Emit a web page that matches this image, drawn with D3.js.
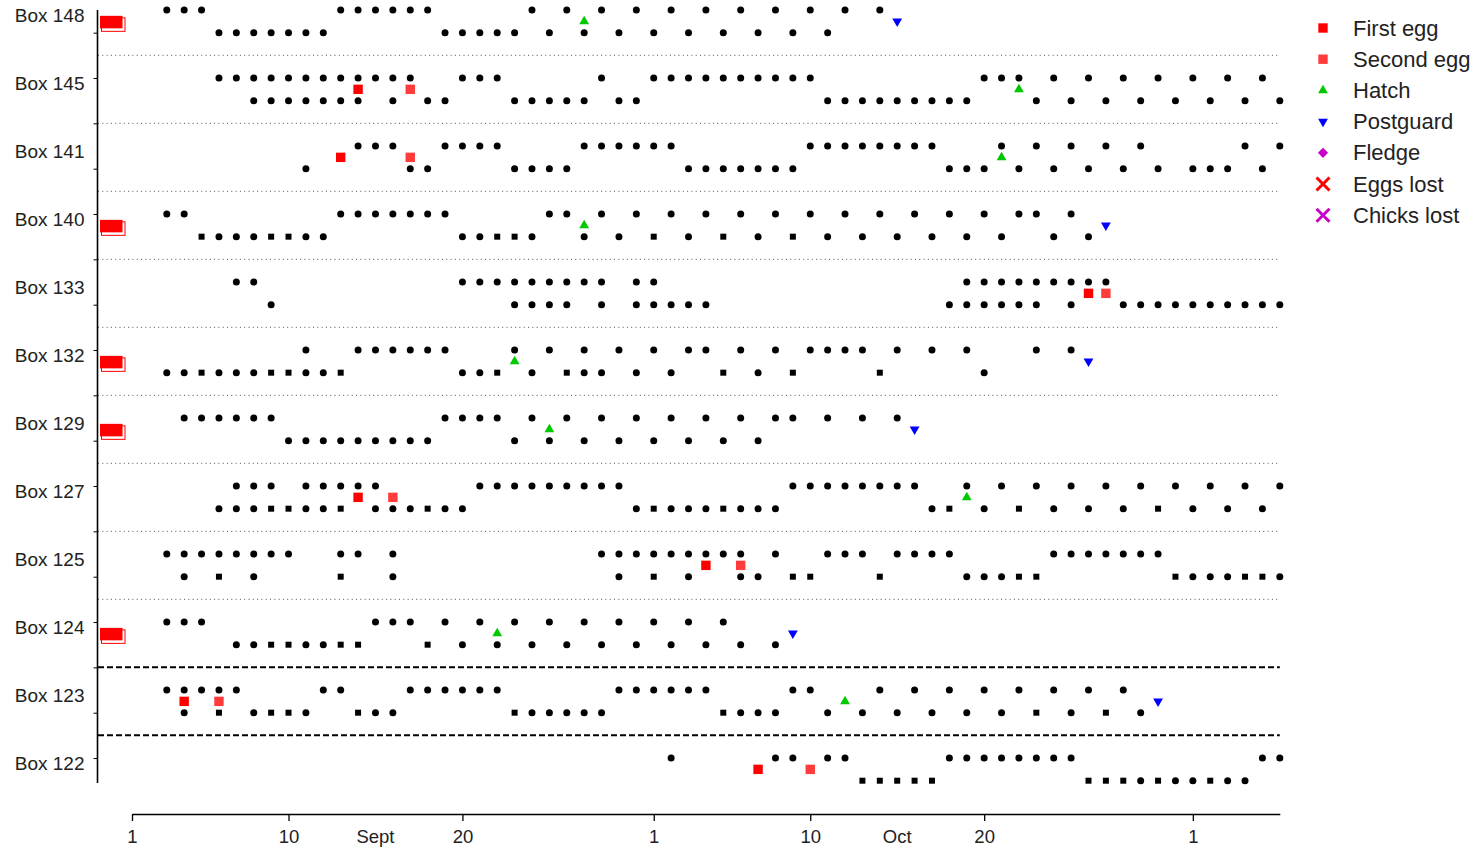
<!DOCTYPE html>
<html>
<head>
<meta charset="utf-8">
<script src="https://cdn.jsdelivr.net/npm/d3@7"></script>
<style>
  body { margin: 0; background: #fff; }
  svg { display: block; }
  text { font-family: "Liberation Sans", Arial, sans-serif; fill: #222; }
</style>
</head>
<body>
<svg id="chart" width="1478" height="849"></svg>
<script>
// Nest boxes, top to bottom
const boxes = ["Box 148", "Box 145", "Box 141", "Box 140", "Box 133", "Box 132",
               "Box 129", "Box 127", "Box 125", "Box 124", "Box 123", "Box 122"];

// Days counted from 1 September (31 = 1 October, 62 = 1 November)
// Sightings of the first bird of each pair (upper row)
const upperDays = [
  [3,4,5,13,14,15,16,17,18,24,26,28,30,32,34,36,38,40,42,44],
  [6,7,8,9,10,11,12,13,14,15,16,17,20,21,22,28,31,32,33,34,35,36,37,38,39,40,50,51,52,54,56,58,60,62,64,66],
  [14,15,16,19,20,21,22,27,28,29,30,31,32,40,41,42,43,44,45,46,47,51,53,55,57,59,65,67],
  [3,4,13,14,15,16,17,18,19,25,26,28,30,32,34,36,38,40,42,44,46,48,50,52,53,55],
  [7,8,20,21,22,23,24,25,26,27,28,30,31,49,50,51,52,53,54,55,56,57],
  [11,14,15,16,17,18,19,23,25,27,29,31,33,34,36,38,40,41,42,43,45,47,49,53,55],
  [4,5,6,7,8,9,19,20,21,22,24,26,28,30,32,34,36,38,39,41,43,45],
  [7,8,9,11,12,13,14,15,21,22,23,24,25,26,27,28,29,39,40,41,42,43,44,45,46,49,51,53,55,57,59,61,63,65,67],
  [3,4,5,6,7,8,9,10,13,14,16,28,29,30,31,32,33,34,35,36,38,41,42,43,45,46,47,48,54,55,56,57,58,59,60],
  [3,4,5,15,16,17,19,21,23,25,27,29,31,33,35],
  [3,4,5,6,7,12,13,17,18,19,20,21,22,29,30,31,32,33,34,39,40,44,46,48,50,52,54,56,58],
  [32,38,39,41,42,48,49,50,51,52,53,54,55,66,67]
];

// Sightings of the second bird (lower row)
const lowerDays = [
  [6,7,8,9,10,11,12,19,20,21,22,23,25,27,29,31,33,35,37,39,41],
  [8,9,10,11,12,13,14,16,18,19,23,24,25,26,27,29,30,41,42,43,44,45,46,47,48,49,53,55,57,59,61,63,65,67],
  [11,17,18,23,24,25,26,33,34,35,36,37,38,39,48,49,50,52,54,56,58,60,62,63,64,66],
  [5,6,7,8,9,10,11,12,20,21,22,23,24,27,29,31,33,35,37,39,41,43,45,47,49,51,54,56],
  [9,23,24,25,26,28,30,31,32,33,34,48,49,50,51,52,53,55,58,59,60,61,62,63,64,65,66,67],
  [3,4,5,6,7,8,9,10,11,12,13,20,21,22,24,26,27,28,30,32,35,37,39,44,50],
  [10,11,12,13,14,15,16,17,18,23,25,27,29,31,33,35,37],
  [6,7,8,9,10,11,12,13,15,16,17,18,19,20,30,31,32,33,34,35,36,37,38,47,48,50,52,54,56,58,60,62,64,66],
  [4,6,8,13,16,29,31,33,36,37,39,40,44,49,50,51,52,53,61,62,63,64,65,66,67],
  [7,8,9,10,11,12,13,14,18,20,22,24,26,28,30,32,34,36,38],
  [4,6,8,9,10,11,14,15,16,23,24,25,26,27,28,35,36,37,38,41,43,45,47,49,51,53,55,57,59],
  [43,44,45,46,47,56,57,58,59,60,61,62,63,64,65]
];

// Lower-row sightings recorded with the square symbol
const lowerSquareDays = [
  [], [], [], [5,9,10,22,23,31,35,39], [], [5,9,10,13,22,26,35,39,44], [],
  [9,10,13,18,31,35,48,52,60], [6,13,31,39,40,44,52,53,61,65,66],
  [9,10,13,14,18], [6,9,10,14,23,35,53,57],
  [43,44,45,46,47,56,57,58,60,63]
];

// Breeding events (day, or null)
const firstEgg   = [null, 14, 13, null, 56, null, null, 14, 34, null, 4, 37];
const secondEgg  = [null, 17, 17, null, 57, null, null, 16, 36, null, 6, 40];
const hatchDay   = [27, 52, 51, 27, null, 23, 25, 49, null, 22, 42, null];
const postguard  = [45, null, null, 57, null, 56, 46, null, null, 39, 60, null];

// Boxes whose clutch was already laid when recording began
const clutchBeforeStart = ["Box 148", "Box 140", "Box 132", "Box 129", "Box 124"];

const dateTickDays   = [1, 10, 20, 31, 40, 50, 62];
const dateTickLabels = ["1", "10", "20", "1", "10", "20", "1"];
const monthDays  = [15, 45];
const monthNames = ["Sept", "Oct"];

const legendLabels = ["First egg", "Second egg", "Hatch", "Postguard", "Fledge", "Eggs lost", "Chicks lost"];

const COL = {
  first: "#ff0000", second: "#ff3b3b", hatch: "#00c800",
  post: "#0000ff", fledge: "#c800c8", eggsLost: "#ff0000", chicksLost: "#c800c8"
};

const svg = d3.select("#chart");
const day = n => new Date(Date.UTC(2015, 8, n));

const x = d3.scaleUtc().domain([day(1), day(67)]).range([132, 1279.8]);
const y = d3.scaleLinear().domain([-0.5, 16.5]).range([780.7, 10]);

// each box occupies 1.5 units: upper row at level, lower row half a unit below
const level = i => 1.5 * (boxes.length - 1 - i);

// Separators between boxes
const sepLevels = d3.range(boxes.length - 1).map(i => level(i) - 1);
svg.append("g").selectAll("line").data(sepLevels).join("line")
  .attr("x1", 98).attr("x2", x(day(67)))
  .attr("y1", d => y(d)).attr("y2", d => y(d))
  .attr("stroke", (d, k) => k >= sepLevels.length - 2 ? "#000" : "#555")
  .attr("stroke-width", (d, k) => k >= sepLevels.length - 2 ? 2 : 1)
  .attr("stroke-dasharray", (d, k) => k >= sepLevels.length - 2 ? "6,3" : "1,3.3");

// Y axis (unlabelled ticks) with box names beside it
const yAxis = svg.append("g").attr("transform", "translate(97.5,0)")
  .call(d3.axisLeft(y).tickValues(d3.range(0, 17)).tickFormat("").tickSize(4).tickSizeOuter(0));
yAxis.select(".domain").remove();
yAxis.selectAll(".tick line").attr("stroke", "#000");
svg.append("line").attr("x1", 97.5).attr("x2", 97.5)
  .attr("y1", y(16.5)).attr("y2", y(-0.55)).attr("stroke", "#000").attr("stroke-width", 1.6);

svg.append("g").selectAll("text").data(boxes).join("text")
  .attr("x", 84.5).attr("y", (d, i) => y(level(i)) + 5)
  .attr("text-anchor", "end").attr("dominant-baseline", "central")
  .style("font-size", "19px").text(d => d);

// X axis
const xAxis = svg.append("g").attr("transform", "translate(0,814)")
  .call(d3.axisBottom(x).tickValues(dateTickDays.map(day))
    .tickFormat((d, i) => dateTickLabels[i]).tickSize(7).tickSizeOuter(0).tickPadding(9));
xAxis.select(".domain").attr("stroke", "#000").attr("stroke-width", 1.6);
xAxis.selectAll(".tick line").attr("stroke", "#000").attr("stroke-width", 1.3);
xAxis.selectAll(".tick text").style("font-size", "18.5px").attr("fill", "#222")
  .style("font-family", "'Liberation Sans', Arial, sans-serif");
svg.append("g").selectAll("text").data(monthNames).join("text")
  .attr("x", (d, i) => x(day(monthDays[i]))).attr("y", 814 + 7 + 9)
  .attr("dy", "0.71em").attr("text-anchor", "middle")
  .style("font-size", "18.5px").text(d => d);

// Sightings
const plot = svg.append("g");
boxes.forEach((b, i) => {
  const up = y(level(i)), lo = y(level(i) - 0.5);
  const sq = new Set(lowerSquareDays[i]);
  plot.append("g").selectAll("circle").data(upperDays[i]).join("circle")
    .attr("cx", d => x(day(d))).attr("cy", up).attr("r", 3.5).attr("fill", "#000");
  plot.append("g").selectAll("circle").data(lowerDays[i].filter(d => !sq.has(d))).join("circle")
    .attr("cx", d => x(day(d))).attr("cy", lo).attr("r", 3.5).attr("fill", "#000");
  plot.append("g").selectAll("rect").data(lowerDays[i].filter(d => sq.has(d))).join("rect")
    .attr("x", d => x(day(d)) - 3).attr("y", lo - 3).attr("width", 6).attr("height", 6).attr("fill", "#000");
});

// Event markers sit halfway between the two rows
const evY = i => y(level(i) - 0.25);
const tri = d3.symbol(d3.symbolTriangle, 42);
boxes.forEach((b, i) => {
  if (firstEgg[i] != null)
    plot.append("rect").attr("x", x(day(firstEgg[i])) - 4.7).attr("y", evY(i) - 4.7)
      .attr("width", 9.4).attr("height", 9.4).attr("fill", COL.first);
  if (secondEgg[i] != null)
    plot.append("rect").attr("x", x(day(secondEgg[i])) - 4.7).attr("y", evY(i) - 4.7)
      .attr("width", 9.4).attr("height", 9.4).attr("fill", COL.second);
  if (hatchDay[i] != null)
    plot.append("path").attr("d", tri)
      .attr("transform", `translate(${x(day(hatchDay[i]))},${evY(i)})`).attr("fill", COL.hatch);
  if (postguard[i] != null)
    plot.append("path").attr("d", tri)
      .attr("transform", `translate(${x(day(postguard[i]))},${evY(i)}) rotate(180)`).attr("fill", COL.post);
  if (clutchBeforeStart.includes(b)) {
    const cy = evY(i) + 2;
    plot.append("rect").attr("x", 101.5).attr("y", cy - 5.5).attr("width", 23.5).attr("height", 13.5)
      .attr("fill", "#fff").attr("stroke", COL.first).attr("stroke-width", 1);
    plot.append("rect").attr("x", 100).attr("y", cy - 7.5).attr("width", 22.5).attr("height", 12.5)
      .attr("fill", COL.first);
  }
});

// Legend
const lg = svg.append("g");
const lx = 1323, ly = k => 28 + 31.2 * k;
lg.append("rect").attr("x", lx - 4.7).attr("y", ly(0) - 4.7).attr("width", 9.4).attr("height", 9.4).attr("fill", COL.first);
lg.append("rect").attr("x", lx - 4.7).attr("y", ly(1) - 4.7).attr("width", 9.4).attr("height", 9.4).attr("fill", COL.second);
lg.append("path").attr("d", tri).attr("transform", `translate(${lx},${ly(2)})`).attr("fill", COL.hatch);
lg.append("path").attr("d", tri).attr("transform", `translate(${lx},${ly(3)}) rotate(180)`).attr("fill", COL.post);
lg.append("rect").attr("x", -3.6).attr("y", -3.6).attr("width", 7.2).attr("height", 7.2)
  .attr("transform", `translate(${lx},${ly(4)}) rotate(45)`).attr("fill", COL.fledge);
[[5, COL.eggsLost], [6, COL.chicksLost]].forEach(([k, c]) => {
  const s = 6.5;
  lg.append("path").attr("d", `M${lx - s},${ly(k) - s}L${lx + s},${ly(k) + s}M${lx - s},${ly(k) + s}L${lx + s},${ly(k) - s}`)
    .attr("stroke", c).attr("stroke-width", 3).attr("fill", "none");
});
lg.selectAll("text").data(legendLabels).join("text")
  .attr("x", 1353).attr("y", (d, k) => ly(k)).attr("dominant-baseline", "central")
  .style("font-size", "22px").text(d => d);
</script>
</body>
</html>
